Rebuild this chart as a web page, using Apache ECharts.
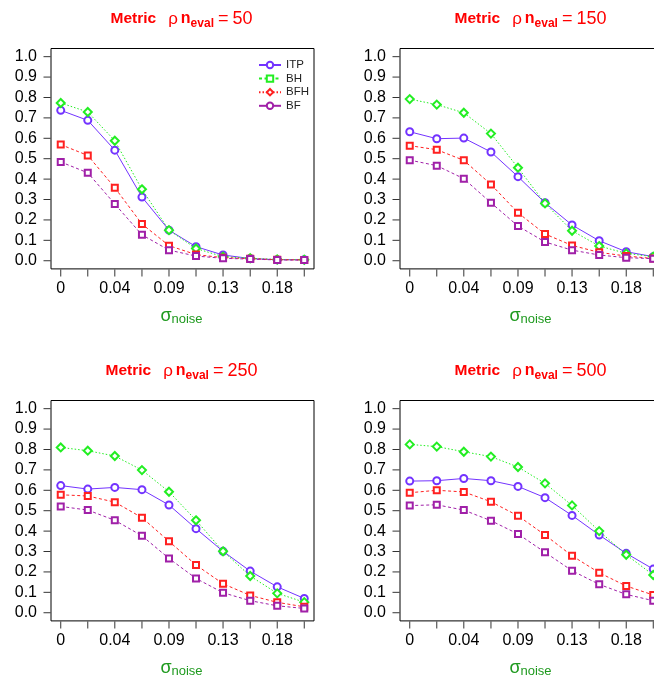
<!DOCTYPE html>
<html>
<head>
<meta charset="utf-8">
<script src="https://cdn.jsdelivr.net/npm/echarts@6/dist/echarts.min.js"></script>
<style>
html,body{margin:0;padding:0;background:#fff;}
#chart{width:654px;height:680px;}
</style>
</head>
<body>
<div id="chart"></div>
<script>
// ---- data ----
const sigma = [0, 0.0222, 0.0444, 0.0667, 0.0889, 0.1111, 0.1333, 0.1556, 0.1778, 0.2];
const xTickLabels = ['0', '0.04', '0.09', '0.13', '0.18'];
const yTickValues = [0, 0.1, 0.2, 0.3, 0.4, 0.5, 0.6, 0.7, 0.8, 0.9, 1.0];
const nEval = [50, 150, 250, 500];
const seriesNames = ['ITP', 'BH', 'BFH', 'BF'];

const itp50  = [0.737, 0.688, 0.542, 0.312, 0.150, 0.069, 0.028, 0.011, 0.005, 0.005];
const bh50   = [0.773, 0.729, 0.588, 0.350, 0.150, 0.060, 0.020, 0.012, 0.006, 0.005];
const bfh50  = [0.569, 0.516, 0.358, 0.180, 0.074, 0.030, 0.015, 0.010, 0.005, 0.004];
const bf50   = [0.484, 0.431, 0.278, 0.127, 0.052, 0.023, 0.012, 0.008, 0.004, 0.003];

const itp150 = [0.632, 0.598, 0.601, 0.533, 0.412, 0.284, 0.175, 0.098, 0.044, 0.020];
const bh150  = [0.792, 0.765, 0.725, 0.623, 0.456, 0.281, 0.147, 0.072, 0.036, 0.020];
const bfh150 = [0.564, 0.544, 0.492, 0.374, 0.235, 0.131, 0.075, 0.041, 0.023, 0.011];
const bf150  = [0.493, 0.466, 0.402, 0.284, 0.170, 0.092, 0.052, 0.028, 0.015, 0.010];

const itp250 = [0.623, 0.606, 0.614, 0.603, 0.528, 0.412, 0.301, 0.204, 0.127, 0.070];
const bh250  = [0.810, 0.794, 0.768, 0.699, 0.593, 0.453, 0.301, 0.180, 0.095, 0.052];
const bfh250 = [0.578, 0.572, 0.542, 0.466, 0.350, 0.234, 0.142, 0.085, 0.051, 0.029];
const bf250  = [0.521, 0.503, 0.453, 0.377, 0.266, 0.168, 0.098, 0.059, 0.034, 0.021];

const itp500 = [0.645, 0.647, 0.658, 0.647, 0.619, 0.564, 0.477, 0.381, 0.291, 0.214];
const bh500  = [0.825, 0.814, 0.789, 0.765, 0.714, 0.634, 0.526, 0.400, 0.284, 0.185];
const bfh500 = [0.588, 0.600, 0.592, 0.544, 0.475, 0.381, 0.279, 0.196, 0.131, 0.087];
const bf500  = [0.525, 0.529, 0.503, 0.451, 0.386, 0.296, 0.206, 0.139, 0.090, 0.059];

const panelData = [
  [itp50, bh50, bfh50, bf50],
  [itp150, bh150, bfh150, bf150],
  [itp250, bh250, bfh250, bf250],
  [itp500, bh500, bfh500, bf500]
];

// ---- styles ----
const FONT = '"Liberation Sans", Arial, Helvetica, sans-serif';
const styles = {
  ITP: {color: '#7333ff', line: 'solid', symbol: 'emptyCircle', size: 7},
  BH:  {color: '#22ee22', line: [1.5, 2], symbol: 'emptyDiamond', size: 8},
  BFH: {color: '#ff2020', line: [3, 2.5], symbol: 'emptyRect', size: 6},
  BF:  {color: '#a020a8', line: [3, 2.5], symbol: 'emptyRect', size: 6}
};
// legend keys as drawn in the reference's legend box
const legendLine = {ITP: 'solid', BH: [3, 2.5], BFH: [1.5, 2], BF: 'solid'};
const legendSymbol = {ITP: 'emptyCircle', BH: 'emptyRect', BFH: 'emptyDiamond', BF: 'emptyCircle'};

const X_MIN = -0.008, X_MAX = 0.208, Y_MIN = -0.04, Y_MAX = 1.04;
const PDX = 349, PDY = 352;
const GL = 51, GT = 48.5, GW = 263, GH = 220.4;
const TICK = 7;

const grids = [], xAxes = [], yAxes = [], series = [], graphics = [];
const xLabelValues = sigma.filter((v, i) => i % 2 === 0);

// empty series that only provide the legend keys (listed first so the legend uses them)
seriesNames.forEach(name => {
  const st = styles[name];
  series.push({
    name: name, type: 'line', xAxisIndex: 0, yAxisIndex: 0, data: [],
    symbol: legendSymbol[name], symbolSize: 7,
    lineStyle: {color: st.color, width: 1, type: legendLine[name]},
    itemStyle: {color: st.color, borderColor: st.color, borderWidth: 1},
    animation: false
  });
});

nEval.forEach((n, p) => {
  const c = p % 2, r = Math.floor(p / 2);
  grids.push({
    left: GL + PDX * c, top: GT + PDY * r, width: GW, height: GH,
    outerBoundsMode: 'none', containLabel: false,
    show: true, borderColor: '#000', borderWidth: 1, backgroundColor: 'transparent'
  });
  xAxes.push({
    type: 'value', gridIndex: p, min: X_MIN, max: X_MAX,
    axisLine: {show: false, onZero: false},
    splitLine: {show: false},
    axisTick: {show: false},
    axisLabel: {
      customValues: xLabelValues, margin: 12, color: '#000', fontSize: 16, fontFamily: FONT,
      formatter: v => {
        const i = xLabelValues.findIndex(s => Math.abs(s - v) < 1e-6);
        return i >= 0 ? xTickLabels[i] : '';
      }
    }
  });
  yAxes.push({
    type: 'value', gridIndex: p, min: Y_MIN, max: Y_MAX,
    axisLine: {show: false, onZero: false},
    splitLine: {show: false},
    axisTick: {show: false},
    axisLabel: {
      customValues: yTickValues, margin: 14, color: '#000', fontSize: 16, fontFamily: FONT,
      formatter: v => v.toFixed(1)
    }
  });
  // outward tick marks, placed through the axes' own scales
  series.push({
    type: 'scatter', xAxisIndex: p, yAxisIndex: p, silent: true, clip: false,
    data: sigma.map(s => [s, Y_MIN]),
    symbol: 'rect', symbolSize: [1, TICK], symbolOffset: [0, TICK / 2 + 0.5],
    itemStyle: {color: '#000'}, animation: false, z: 10
  });
  series.push({
    type: 'scatter', xAxisIndex: p, yAxisIndex: p, silent: true, clip: false,
    data: yTickValues.map(v => [X_MIN, v]),
    symbol: 'rect', symbolSize: [TICK, 1], symbolOffset: [-(TICK / 2 + 0.5), 0],
    itemStyle: {color: '#000'}, animation: false, z: 10
  });
  seriesNames.forEach((name, k) => {
    const st = styles[name];
    series.push({
      name: name, type: 'line', xAxisIndex: p, yAxisIndex: p,
      data: sigma.map((x, i) => [x, panelData[p][k][i]]),
      symbol: st.symbol, symbolSize: st.size, showSymbol: true,
      lineStyle: {color: st.color, width: 1, type: st.line},
      itemStyle: {color: st.color, borderColor: st.color, borderWidth: 1},
      emphasis: {disabled: true},
      animation: false, z: 2 + k
    });
  });
  const cx = GL + PDX * c + 130.5;
  graphics.push({
    type: 'text', x: cx, y: 19 + PDY * r,
    style: {
      text: '{b|Metric}{rho|ρ}{n|n}{s|eval}{eq|=}{num|' + n + '}',
      align: 'center', verticalAlign: 'middle', fill: '#ff0000',
      rich: {
        b:   {fontFamily: FONT, fontWeight: 'bold', fontSize: 15.5, fill: '#ff0000', lineHeight: 22},
        rho: {fontFamily: FONT, fontSize: 17, fill: '#ff0000', lineHeight: 22, padding: [0, 0, 0, 12]},
        n:   {fontFamily: FONT, fontWeight: 'bold', fontSize: 16, fill: '#ff0000', lineHeight: 22, padding: [0, 0, 0, 3]},
        s:   {fontFamily: FONT, fontWeight: 'bold', fontSize: 12, fill: '#ff0000', lineHeight: 14, verticalAlign: 'bottom'},
        eq:  {fontFamily: FONT, fontSize: 18, fill: '#ff0000', lineHeight: 22, padding: [0, 0, 0, 4]},
        num: {fontFamily: FONT, fontSize: 18, fill: '#ff0000', lineHeight: 22, padding: [0, 0, 0, 4]}
      }
    }
  });
  graphics.push({
    type: 'text', x: cx, y: 316 + PDY * r,
    style: {
      text: '{g|σ}{t|noise}',
      align: 'center', verticalAlign: 'middle', fill: '#1f9a1f',
      rich: {
        g: {fontFamily: FONT, fontSize: 18, fill: '#1f9a1f', lineHeight: 20},
        t: {fontFamily: FONT, fontSize: 13, fill: '#1f9a1f', lineHeight: 14, verticalAlign: 'bottom'}
      }
    }
  });
});

const chart = echarts.init(document.getElementById('chart'), null, {renderer: 'canvas'});
chart.setOption({
  backgroundColor: '#fff',
  animation: false,
  grid: grids,
  xAxis: xAxes,
  yAxis: yAxes,
  series: series,
  graphic: graphics,
  legend: {
    orient: 'vertical', left: 253, top: 54,
    itemWidth: 22, itemHeight: 8, itemGap: 1.6,
    textStyle: {fontFamily: FONT, fontSize: 11.5, color: '#222', lineHeight: 12, padding: [0, 0, 0, 0]},
    data: seriesNames,
    selectedMode: false
  }
});
</script>
</body>
</html>
